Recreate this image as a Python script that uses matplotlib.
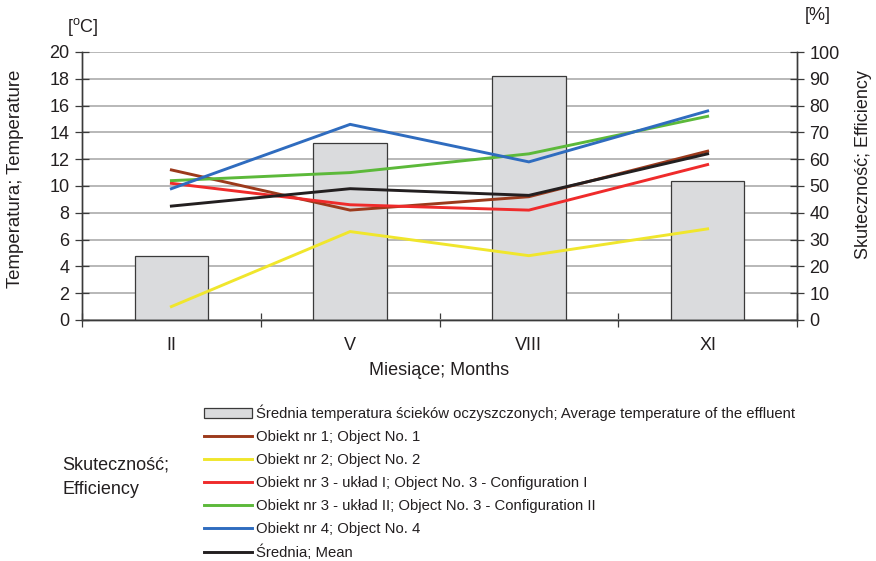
import matplotlib
matplotlib.use("Agg")
import matplotlib.pyplot as plt
import numpy as np
from matplotlib.patches import Patch
from matplotlib.lines import Line2D

# ---------- Data ----------
months = ["II", "V", "VIII", "XI"]
effluent_temp = [4.8, 13.2, 18.2, 10.4]          # [oC], left axis
obj1 = [56, 41, 46, 63]                          # [%], right axis
obj2 = [5, 33, 24, 34]
obj3_cfg1 = [51, 43, 41, 58]
obj3_cfg2 = [52, 55, 62, 76]
obj4 = [49, 73, 59, 78]
mean_eff = [42.5, 49, 46.5, 62]

series_labels = [
    "Obiekt nr 1; Object No. 1",
    "Obiekt nr 2; Object No. 2",
    "Obiekt nr 3 - układ I; Object No. 3 - Configuration I",
    "Obiekt nr 3 - układ II; Object No. 3 - Configuration II",
    "Obiekt nr 4; Object No. 4",
    "Średnia; Mean",
]
bar_label = "Średnia temperatura ścieków oczyszczonych; Average temperature of the effluent"

# ---------- Style ----------
plt.rcParams["font.family"] = ["Liberation Sans", "DejaVu Sans"]
FS = 13
TEXT = "#231f20"
AXIS = "#3a3a3a"
GRID = "#b8b8b8"
BAR_FACE = "#dadbdd"
LINE_COLORS = ["#9c3a1c", "#f0e62c", "#ef2b2b", "#5cb93a", "#2f6cbf", "#231f20"]

W, H = 876, 561
fig = plt.figure(figsize=(W / 100, H / 100), dpi=100)
ax = fig.add_axes([82 / W, 1 - 320 / H, 715 / W, 268 / H])
ax2 = ax.twinx()

x = np.arange(len(months))

# bars: effluent temperature
ax.bar(x, effluent_temp, width=0.41, color=BAR_FACE, edgecolor=AXIS,
       linewidth=0.9, zorder=2)
ax.set_axisbelow(True)
ax.set_ylim(0, 20)
ax.set_yticks(np.arange(0, 21, 2))
ax.yaxis.grid(True, color=GRID, linewidth=1.4)
ax.set_xlim(-0.5, 3.5)

# category boundaries as tick marks, labels in the middle
ax.set_xticks(np.arange(-0.5, 4, 1))
ax.set_xticklabels([])
ax.set_xticks(x, minor=True)
ax.set_xticklabels(months, minor=True)
ax.tick_params(axis="x", which="major", direction="inout", length=10,
               width=0.9, color=AXIS)
ax.tick_params(axis="x", which="minor", length=0, pad=12,
               labelsize=FS, labelcolor=TEXT)
ax.tick_params(axis="y", direction="inout", length=10, width=0.9,
               color=AXIS, labelsize=FS, labelcolor=TEXT, pad=4)

# efficiency lines
all_series = [obj1, obj2, obj3_cfg1, obj3_cfg2, obj4, mean_eff]
for vals, col in zip(all_series, LINE_COLORS):
    ax2.plot(x, vals, color=col, linewidth=2.1, solid_joinstyle="miter")
ax2.set_ylim(0, 100)
ax2.set_yticks(np.arange(0, 101, 10))
ax2.tick_params(axis="y", direction="inout", length=10, width=0.9,
                color=AXIS, labelsize=FS, labelcolor=TEXT, pad=4)

for a in (ax, ax2):
    a.spines["top"].set_visible(False)
    for side in ("left", "right", "bottom"):
        a.spines[side].set_color(AXIS)
        a.spines[side].set_linewidth(1.0)

ax.set_xlabel("Miesiące; Months", fontsize=FS, color=TEXT, labelpad=6)

# axis titles and units
fig.text(16 / W, 1 - 179 / H, "Temperatura; Temperature", fontsize=13.4,
         color=TEXT, rotation=90, ha="center", va="center")
fig.text(864 / W, 1 - 165 / H, "Skuteczność; Efficiency", fontsize=FS,
         color=TEXT, rotation=90, ha="center", va="center")
fig.text(83 / W, 1 - 27 / H, "[$\\mathregular{^o}$C]", fontsize=FS,
         color=TEXT, ha="center", va="center")
fig.text(818 / W, 1 - 16 / H, "[%]", fontsize=FS, color=TEXT,
         ha="center", va="center")

# legend below the plot
handles = [Patch(facecolor=BAR_FACE, edgecolor=AXIS, linewidth=0.9)]
handles += [Line2D([0], [0], color=c, linewidth=2.1) for c in LINE_COLORS]
labels = [bar_label] + series_labels
fig.legend(handles, labels, loc="upper left",
           bbox_to_anchor=(198 / W, 1 - 399 / H), frameon=False,
           fontsize=10.7, handlelength=3.2, handleheight=0.7,
           handletextpad=0.3, labelspacing=0.6, labelcolor=TEXT,
           borderaxespad=0)

fig.text(62 / W, 1 - 477 / H, "Skuteczność;\nEfficiency", fontsize=FS,
         color=TEXT, ha="left", va="center", linespacing=1.6)

fig.savefig("out.png", dpi=100)
